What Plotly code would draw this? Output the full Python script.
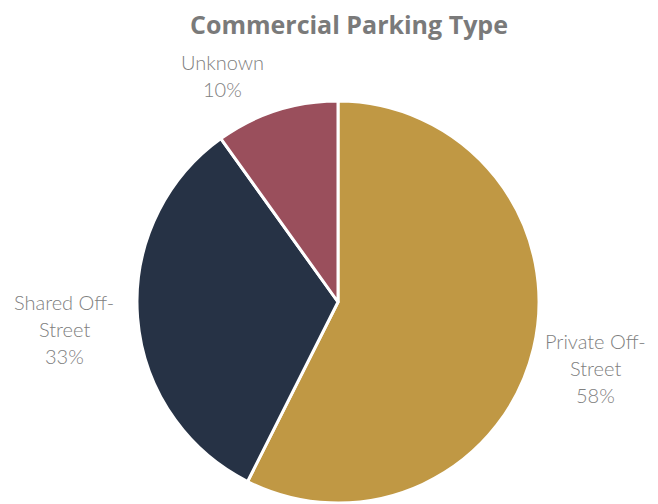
import plotly.graph_objects as go

# Data
categories = ["Private Off-Street", "Shared Off-Street", "Unknown"]
label_lines = [["Private Off-", "Street"], ["Shared Off-", "Street"], ["Unknown"]]
values = [58, 33, 10]
colors = ["#C09844", "#263245", "#9A4F5C"]

# page has an 8px body margin; work in window pixels and convert
OFF = 8
W, H = 658 - OFF, 504 - OFF

def px_x(x):
    return (x - OFF) / W

def px_y(y):
    return 1 - (y - OFF) / H

cx, cy, r = 338, 302, 201

fig = go.Figure(go.Pie(
    labels=categories,
    values=values,
    sort=False,
    direction="clockwise",
    rotation=0,
    marker=dict(colors=colors, line=dict(color="white", width=3)),
    textinfo="none",
    hoverinfo="label+value",
    domain=dict(x=[px_x(cx - r), px_x(cx + r)], y=[px_y(cy + r), px_y(cy - r)]),
    showlegend=False,
))

# label anchor positions (window pixels: center x, first-line center y)
label_pos = [(595, 341), (64, 302), (222, 62)]
line_gap = 27
font = dict(family="Lato", size=20, color="#808080", weight=300)
annotations = []
for lines, v, (px, py) in zip(label_lines, values, label_pos):
    all_lines = lines + [f"{v}%"]
    for i, t in enumerate(all_lines):
        y = py + i * line_gap
        annotations.append(dict(
            text=t, x=px_x(px), y=px_y(y), xref="paper", yref="paper",
            xanchor="center", yanchor="middle", showarrow=False, font=font,
        ))

annotations.append(dict(
    text="<b>Commercial Parking Type</b>", x=px_x(349), y=px_y(24),
    xref="paper", yref="paper", xanchor="center", yanchor="middle",
    showarrow=False, borderpad=0,
    font=dict(family="Open Sans", size=25, color="#7A7A7A"),
))

fig.update_layout(
    width=W, height=H,
    margin=dict(l=0, r=0, t=0, b=0),
    paper_bgcolor="white",
    plot_bgcolor="white",
    annotations=annotations,
)

fig.write_html("out.html")
